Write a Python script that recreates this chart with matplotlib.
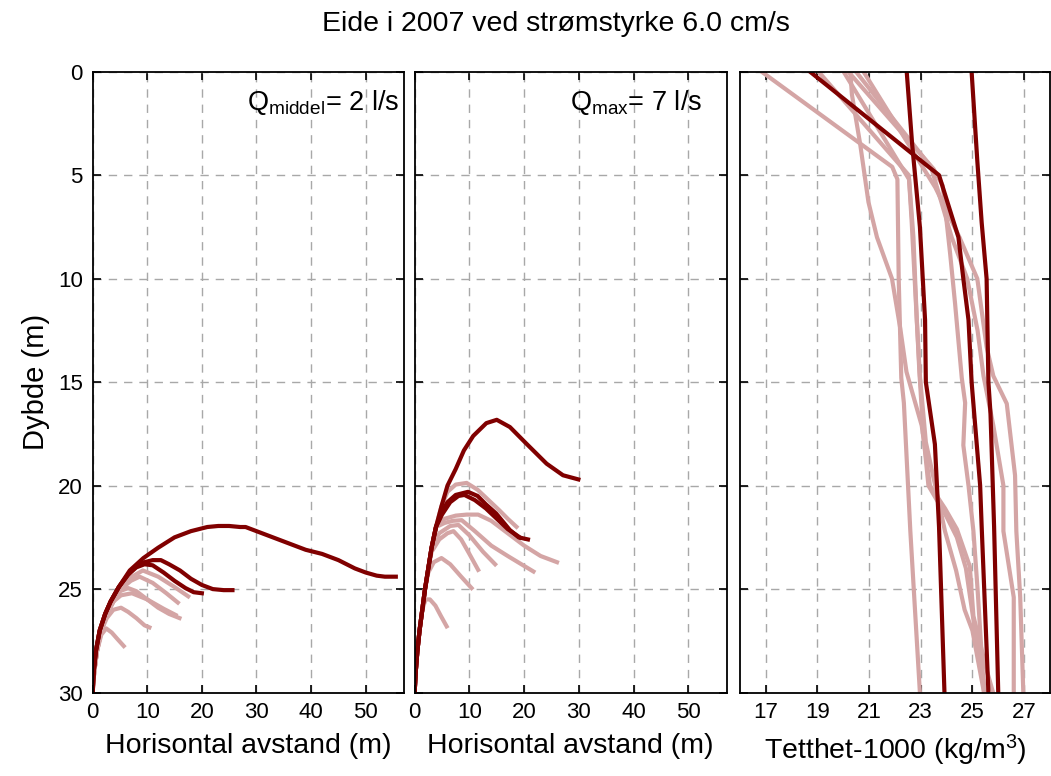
import matplotlib
matplotlib.use('Agg')
import matplotlib.pyplot as plt

plt.rcParams['font.family'] = ['Liberation Sans', 'DejaVu Sans']
plt.rcParams['mathtext.fontset'] = 'custom'
plt.rcParams['mathtext.rm'] = 'Liberation Sans'
plt.rcParams['mathtext.it'] = 'Liberation Sans'

dark = '#800000'
light = '#d4a5a5'

# panel 1: Q middel = 2 l/s  (horizontal distance m, depth m)
p1_dark_x = [
    [0, 0.2, 0.6, 1.3, 2.3, 3.3, 4.8, 6.8, 9.3, 12, 15, 18, 21, 23, 25, 27, 28, 30, 33, 36, 39, 42, 45, 48, 50, 52, 53.5, 55.5],
    [0, 0.2, 0.6, 1.3, 2.3, 3.3, 4.8, 6.5, 8, 9.5, 11, 12.5, 14, 16, 18, 20, 22, 24, 25.6],
    [0, 0.2, 0.6, 1.3, 2.3, 3.3, 4.8, 6.5, 8, 9.5, 11, 13, 15, 17, 18.5, 20],
]
p1_dark_d = [
    [30, 29, 28, 27, 26.2, 25.6, 24.9, 24.1, 23.5, 23.0, 22.5, 22.2, 22.0, 21.95, 21.95, 22.0, 22.0, 22.2, 22.5, 22.8, 23.1, 23.3, 23.6, 24.0, 24.2, 24.35, 24.4, 24.4],
    [30, 29, 28, 27, 26.2, 25.6, 24.9, 24.3, 23.9, 23.7, 23.6, 23.6, 23.8, 24.1, 24.5, 24.8, 25.0, 25.05, 25.05],
    [30, 29, 28, 27, 26.2, 25.6, 24.9, 24.3, 23.95, 23.8, 23.85, 24.2, 24.6, 24.95, 25.15, 25.2],
]
p1_light_x = [
    [0, 0.3, 0.8, 1.6, 2.5, 3.5, 4.5, 5.7],
    [0, 0.3, 0.8, 1.6, 2.6, 3.8, 5.2, 6.5, 8, 9.5, 10.4],
    [0, 0.3, 0.8, 1.6, 2.6, 3.8, 5, 6.5, 8, 10, 12, 14, 15.9],
    [0, 0.3, 0.8, 1.6, 2.6, 3.8, 5.2, 7.2, 10, 13, 15.2],
    [0, 0.3, 0.8, 1.6, 2.6, 3.8, 5.2, 7, 8.6, 11, 13.5, 15.6],
    [0, 0.3, 0.8, 1.6, 2.6, 3.8, 5.2, 7.2, 9.2, 12, 15, 17.5],
]
p1_light_d = [
    [30, 29, 28, 27.2, 26.9, 27.1, 27.4, 27.75],
    [30, 29, 28, 27, 26.4, 26.0, 25.9, 26.1, 26.4, 26.75, 26.85],
    [30, 29, 28, 27, 26.2, 25.6, 25.1, 24.95, 25.1, 25.5, 25.9, 26.2, 26.4],
    [30, 29, 28, 27, 26.2, 25.6, 25.3, 25.2, 25.5, 25.95, 26.25],
    [30, 29, 28, 27, 26.2, 25.6, 25.0, 24.6, 24.4, 24.7, 25.2, 25.65],
    [30, 29, 28, 27, 26.2, 25.6, 24.9, 24.4, 24.1, 24.4, 24.9, 25.35],
]

# panel 2: Q max = 7 l/s
p2_dark_x = [
    [0, 0.2, 0.5, 0.9, 1.4, 1.9, 2.5, 3.1, 3.9, 4.9, 6, 7.5, 9, 10.7, 13.1, 15, 17.4, 20.4, 24.1, 27.1, 29.9],
    [0, 0.2, 0.5, 0.9, 1.4, 1.9, 2.5, 3.1, 3.9, 4.9, 6, 7.5, 9.75, 11.5, 13, 14.9, 17.4, 19, 20.7],
    [0, 0.2, 0.5, 0.9, 1.4, 1.9, 2.5, 3.1, 3.9, 5, 6.5, 8, 9.1, 11, 13, 15, 17, 19.2],
]
p2_dark_d = [
    [30, 29, 28, 27, 26, 25, 24, 23, 22, 21, 20, 19.2, 18.3, 17.6, 16.98, 16.82, 17.17, 17.97, 18.94, 19.5, 19.7],
    [30, 29, 28, 27, 26, 25, 24, 23, 22, 21.3, 20.8, 20.45, 20.3, 20.5, 20.9, 21.35, 22.15, 22.5, 22.6],
    [30, 29, 28, 27, 26, 25, 24, 23, 22, 21.4, 20.8, 20.5, 20.45, 20.7, 21.1, 21.6, 22.1, 22.5],
]
p2_light_x = [
    [0, 0.2, 0.5, 0.9, 1.4, 2, 2.8, 3.8, 4.8, 5.85],
    [0, 0.2, 0.5, 0.9, 1.4, 1.9, 2.5, 3.5, 4.9, 6.5, 8.5, 10.4],
    [0, 0.2, 0.5, 0.9, 1.4, 1.9, 2.5, 3.1, 4.5, 6, 7.1, 8.5, 10, 11.6],
    [0, 0.2, 0.5, 0.9, 1.4, 1.9, 2.5, 3.1, 4.5, 6.5, 8, 10, 12.5, 14.7],
    [0, 0.2, 0.5, 0.9, 1.4, 1.9, 2.5, 3.1, 3.9, 5.5, 7, 8.6, 11, 14, 17, 19.5, 21.7],
    [0, 0.2, 0.5, 0.9, 1.4, 1.9, 2.5, 3.1, 3.9, 5.5, 7.5, 9.5, 11.6, 14, 17, 20, 23, 26.0],
    [0, 0.2, 0.5, 0.9, 1.4, 1.9, 2.5, 3.1, 3.9, 4.9, 6, 7.5, 9.5, 11.5, 13.5, 15.5, 17, 18.6],
]
p2_light_d = [
    [30, 29, 28, 27, 26, 25.5, 25.5, 25.8, 26.3, 26.8],
    [30, 29, 28, 27, 26, 25, 24.2, 23.7, 23.5, 23.8, 24.4, 24.95],
    [30, 29, 28, 27, 26, 25, 24, 23.2, 22.6, 22.3, 22.2, 22.6, 23.3, 24.07],
    [30, 29, 28, 27, 26, 25, 24, 23, 22.3, 21.95, 21.9, 22.4, 23.2, 23.8],
    [30, 29, 28, 27, 26, 25, 24, 23, 22, 21.8, 21.7, 21.67, 22.2, 22.9, 23.4, 23.8, 24.15],
    [30, 29, 28, 27, 26, 25, 24, 23, 22, 21.6, 21.45, 21.4, 21.4, 21.7, 22.3, 22.9, 23.4, 23.7],
    [30, 29, 28, 27, 26, 25, 24, 23, 22, 21, 20.3, 19.95, 19.87, 20.2, 20.7, 21.2, 21.6, 21.99],
]

# panel 3: density profiles (Tetthet-1000 kg/m3 vs depth)
p3_dark_x = [
    [18.72, 23.71, 24.46, 24.65, 24.85, 24.97, 25.3, 25.36, 25.62],
    [22.46, 22.67, 22.97, 23.17, 23.2, 23.55, 23.71, 23.92],
    [24.97, 25.19, 25.36, 25.55, 25.62, 25.7, 25.84, 26.0],
]
p3_dark_d = [
    [0, 5, 8, 10, 12, 15, 20, 22, 30],
    [0, 3.5, 7.5, 12, 15, 18, 22, 30],
    [0, 4.3, 7.3, 10, 15, 16.5, 22, 30],
]
p3_light_x = [
    [16.85, 21.9, 22.1, 22.15, 22.25, 22.35, 22.6, 22.97],
    [20.28, 20.34, 20.66, 20.98, 21.31, 21.89, 22.21, 22.45, 23.04, 23.36, 23.94, 24.4, 24.9, 25.04, 25.55, 25.8],
    [20.02, 22.55, 22.65, 22.85, 22.97, 23.2, 23.7, 23.94, 24.37, 24.7, 25.0, 25.45],
    [19.05, 22.54, 22.72, 22.85, 22.95, 23.1, 23.3, 24.0, 24.4, 24.75, 25.1, 25.5],
    [20.2, 23.5, 23.85, 24.14, 24.33, 24.59, 24.72, 24.65, 24.85, 25.04, 25.2, 25.45],
    [20.5, 23.4, 24.2, 24.8, 25.2, 25.43, 25.81, 26.2, 26.2, 26.6, 26.6],
    [20.79, 23.57, 24.5, 25.19, 25.55, 25.81, 26.33, 26.65, 26.7, 26.85, 26.97],
]
p3_light_d = [
    [0, 4.6, 5.2, 10, 14.8, 16, 22.2, 30],
    [0, 1.1, 3.5, 6.3, 8, 10, 12.4, 14.5, 17.1, 20, 21.1, 22.1, 23.9, 26.3, 28.9, 30],
    [0, 5.2, 7.2, 12, 14.7, 17.9, 20.8, 22.2, 24.1, 26, 27, 30],
    [0, 5.0, 8, 12, 14.5, 17.5, 20, 21.5, 22.5, 24, 27, 30],
    [0, 4.7, 5.5, 8.8, 11.2, 14.8, 16, 18.05, 20, 22.2, 25, 30],
    [0, 4.6, 8, 10, 12.5, 14.7, 17.1, 20, 22.2, 25.4, 30],
    [0, 5.6, 8, 10, 13.3, 14.7, 16.04, 19.5, 22.2, 25.4, 30],
]

depth_ticks = [0, 5, 10, 15, 20, 25, 30]
dist_ticks = [0, 10, 20, 30, 40, 50]
dens_ticks = [17, 19, 21, 23, 25, 27]

fig = plt.figure(figsize=(10.51, 7.76), dpi=100)
ax1 = fig.add_axes([0.0881, 0.1075, 0.2963, 0.8001])
ax2 = fig.add_axes([0.3945, 0.1075, 0.2970, 0.8001])
ax3 = fig.add_axes([0.7038, 0.1075, 0.2952, 0.8001])

def style(ax, xticks):
    ax.set_ylim(30, 0)
    ax.set_yticks(depth_ticks)
    ax.set_xticks(xticks)
    ax.grid(True, color='#a8a8a8', linestyle=(0, (6, 5)), linewidth=1.0)
    ax.tick_params(direction='in', top=True, right=True, length=6, width=1.2,
                   labelsize=16, pad=7)
    for s in ax.spines.values():
        s.set_linewidth(1.3)

for xs, ds in zip(p1_light_x, p1_light_d):
    ax1.plot(xs, ds, color=light, lw=3)
for xs, ds in zip(p1_dark_x, p1_dark_d):
    ax1.plot(xs, ds, color=dark, lw=3)
style(ax1, dist_ticks)
ax1.set_xlim(0, 57)
ax1.set_ylabel('Dybde (m)', fontsize=21, labelpad=6)
ax1.set_xlabel('Horisontal avstand (m)', fontsize=20.5, labelpad=7)
ax1.text(0.985, 0.95, r'Q$_{\mathrm{middel}}$= 2 l/s', transform=ax1.transAxes,
         ha='right', va='center', fontsize=19.5)

for xs, ds in zip(p2_light_x, p2_light_d):
    ax2.plot(xs, ds, color=light, lw=3)
for xs, ds in zip(p2_dark_x, p2_dark_d):
    ax2.plot(xs, ds, color=dark, lw=3)
style(ax2, dist_ticks)
ax2.set_xlim(0, 57)
ax2.set_yticklabels([])
ax2.set_xlabel('Horisontal avstand (m)', fontsize=20.5, labelpad=7)
ax2.text(0.92, 0.95, r'Q$_{\mathrm{max}}$= 7 l/s', transform=ax2.transAxes,
         ha='right', va='center', fontsize=19.5)

for xs, ds in zip(p3_light_x, p3_light_d):
    ax3.plot(xs, ds, color=light, lw=3)
for xs, ds in zip(p3_dark_x, p3_dark_d):
    ax3.plot(xs, ds, color=dark, lw=3)
style(ax3, dens_ticks)
ax3.set_xlim(16, 28)
ax3.set_yticklabels([])
ax3.set_xlabel('Tetthet-1000 (kg/m$^3$)', fontsize=20.5, labelpad=7)

fig.text(0.529, 0.969, 'Eide i 2007 ved strømstyrke 6.0 cm/s', ha='center', va='center',
         fontsize=20.5)

fig.savefig('out.png', dpi=100)
